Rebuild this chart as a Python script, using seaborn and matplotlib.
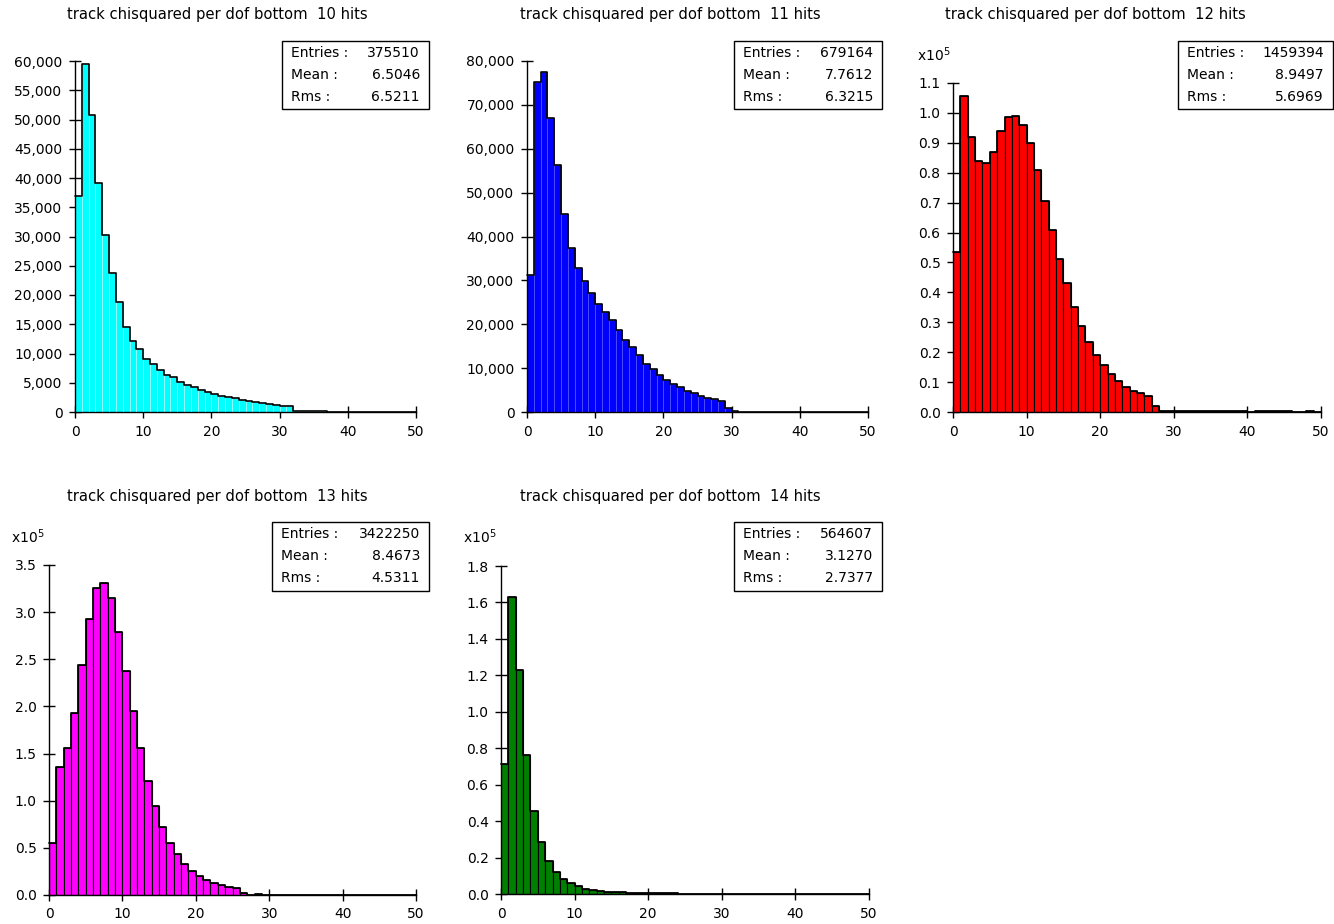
# Track chi-squared per dof (bottom) - histograms for 10..14 hits
# Recreated with seaborn on a 1334x924 canvas

import numpy as np
import pandas as pd
import seaborn as sns

import matplotlib
matplotlib.use('Agg')
import matplotlib.pyplot as plt
from matplotlib.patches import Rectangle
from matplotlib.ticker import FuncFormatter

######################################
# <--- Data (counts per unit bin) ---> #
######################################
bin_centers = np.arange(0, 50) + 0.5

hits10 = [37000, 59500, 50700, 39200, 30200, 23700, 18800, 14500, 12200, 10700,
          9000, 8200, 7100, 6400, 5900, 5100, 4700, 4200, 3800, 3400,
          3100, 2800, 2600, 2350, 2100, 1950, 1700, 1600, 1450, 1250,
          1100, 1000, 250, 200, 150, 120, 100, 80, 60, 50,
          40, 30, 30, 20, 20, 10, 10, 10, 10, 10]
hits11 = [31300, 75200, 77600, 66900, 56200, 45200, 37400, 32900, 29800, 27200,
          24700, 22700, 20900, 18600, 16500, 14800, 12900, 11000, 9700, 8400,
          7300, 6300, 5600, 4700, 4300, 3700, 3200, 2900, 2600, 800,
          150, 100, 80, 60, 50, 40, 30, 20, 20, 10,
          10, 10, 10, 10, 10, 10, 10, 10, 10, 10]
hits12 = [53400, 105500, 91900, 83900, 83200, 86800, 93900, 98500, 99000, 96100,
          90000, 80800, 70500, 60700, 51000, 43000, 35200, 28700, 23300, 18900,
          15600, 12700, 10400, 8500, 7100, 6300, 5200, 1900, 500, 500,
          500, 500, 500, 500, 500, 500, 500, 500, 500, 500,
          0, 400, 400, 400, 400, 400, 0, 0, 400, 0]
hits13 = [55500, 136100, 156200, 193400, 243600, 293000, 325200, 331200, 314600, 279300,
          237900, 195100, 156200, 121200, 94700, 72500, 54800, 43100, 32900, 25500,
          20100, 15900, 12700, 10300, 8500, 7100, 1800, 200, 600, 0,
          0, 0, 0, 0, 0, 0, 0, 0, 0, 0,
          0, 0, 0, 0, 0, 0, 0, 0, 0, 400]
hits14 = [71600, 163000, 123200, 76200, 45500, 28700, 18100, 12200, 8200, 5800,
          4200, 2900, 2200, 1600, 1300, 1100, 900, 700, 600, 500,
          400, 400, 300, 300, 200, 0, 0, 0, 0, 0,
          0, 0, 0, 0, 0, 0, 0, 0, 0, 0,
          0, 0, 0, 0, 0, 0, 0, 0, 0, 0]

titles = ["track chisquared per dof bottom  10 hits",
          "track chisquared per dof bottom  11 hits",
          "track chisquared per dof bottom  12 hits",
          "track chisquared per dof bottom  13 hits",
          "track chisquared per dof bottom  14 hits"]
entries = ["375510", "679164", "1459394", "3422250", "564607"]
means = ["6.5046", "7.7612", "8.9497", "8.4673", "3.1270"]
rmss = ["6.5211", "6.3215", "5.6969", "4.5311", "2.7377"]
fill_colors = ["#00ffff", "#0000ff", "#ff0000", "#ff00ff", "#008000"]

##############################
# <--- Figure and styling ---> #
##############################
W, H = 1334, 924
FS = 10
sns.set_theme(style="white")
plt.rcParams['font.family'] = ['DejaVu Sans']
plt.rcParams['text.color'] = 'black'
fig = plt.figure(figsize=(W / 100, H / 100), dpi=100)
fig.patch.set_facecolor("white")


def px_rect(left, right, top, bottom):
    return [left / W, 1 - bottom / H, (right - left) / W, (bottom - top) / H]


# pixel layouts: axes box, title centre, stats box, x10^5 label
panels = [
    dict(ax=(75, 416, 61, 412), title=(217, 15), box=(282, 429, 41, 109),
         ymax=60000, ystep=5000, scaled=False, lite="#a0ffff"),
    dict(ax=(527, 868, 61, 412), title=(670, 15), box=(734, 882, 41, 109),
         ymax=80000, ystep=10000, scaled=False, lite="#5050ff"),
    dict(ax=(953, 1321, 83, 412), title=(1095, 15), box=(1178, 1333, 41, 109),
         ymax=110000, ystep=10000, scaled=True, mult=(917, 55)),
    dict(ax=(49, 416, 565, 895), title=(217, 497), box=(272, 429, 522, 591),
         ymax=350000, ystep=50000, scaled=True, mult=(11, 537)),
    dict(ax=(501, 869, 566, 894), title=(670, 497), box=(734, 882, 522, 591),
         ymax=180000, ystep=20000, scaled=True, mult=(463, 537)),
]
all_counts = [hits10, hits11, hits12, hits13, hits14]

for i, p in enumerate(panels):
    ax = fig.add_axes(px_rect(*p['ax']))
    df = pd.DataFrame({"chi2": bin_centers, "count": all_counts[i]})
    hist_kws = dict(data=df, x="chi2", weights="count", binwidth=1,
                    binrange=(0, 50), ax=ax)

    if p['scaled']:
        # black bar edges, heavier top outline
        sns.histplot(element="bars", color=fill_colors[i], alpha=1,
                     edgecolor="black", linewidth=0.8, **hist_kws)
        sns.histplot(element="step", fill=False, color="black",
                     linewidth=1.3, **hist_kws)
    else:
        # light bin separators with black step outline
        sns.histplot(element="bars", color=fill_colors[i], alpha=1,
                     edgecolor=p['lite'], linewidth=0.6, **hist_kws)
        sns.histplot(element="step", fill=False, color="black",
                     linewidth=1.2, **hist_kws)
    for ln in ax.lines:
        ln.set_clip_on(False)

    ax.set_xlim(0, 50)
    ax.set_ylim(0, p['ymax'])
    ax.set_xticks(np.arange(0, 51, 10))
    ax.set_yticks(np.arange(0, p['ymax'] + 1, p['ystep']))
    if p['scaled']:
        ax.yaxis.set_major_formatter(FuncFormatter(lambda v, pos: f"{v / 1e5:.1f}"))
    else:
        ax.yaxis.set_major_formatter(FuncFormatter(lambda v, pos: f"{v:,.0f}"))
    ax.set_xlabel("")
    ax.set_ylabel("")
    ax.set_facecolor("white")
    for side in ["top", "right"]:
        ax.spines[side].set_visible(False)
    for side in ["left", "bottom"]:
        ax.spines[side].set_color("black")
        ax.spines[side].set_linewidth(1.0)
    ax.tick_params(axis="both", direction="inout", length=8, width=1,
                   colors="black", labelsize=FS, pad=5, bottom=True, left=True)

    # title
    tx, ty = p['title']
    fig.text(tx / W, 1 - ty / H, titles[i], ha="center", va="center",
             fontsize=10.6, color="black")

    # x10^5 multiplier
    if p['scaled']:
        mx, my = p['mult']
        fig.text(mx / W, 1 - my / H, r"x10$^5$", ha="left", va="center",
                 fontsize=FS, color="black")

    # stats box
    bl, br, bt, bb = p['box']
    fig.add_artist(Rectangle((bl / W, 1 - bb / H), (br - bl) / W, (bb - bt) / H,
                             transform=fig.transFigure, facecolor="white",
                             edgecolor="black", linewidth=1.0))
    rows = [("Entries :", entries[i]), ("Mean :", means[i]), ("Rms :", rmss[i])]
    for k, (lab, val) in enumerate(rows):
        yy = 1 - (bt + 12 + 22 * k) / H
        fig.text((bl + 9) / W, yy, lab, ha="left", va="center", fontsize=FS,
                 color="black")
        fig.text((br - 9) / W, yy, val, ha="right", va="center", fontsize=FS,
                 color="black")

plt.savefig("out.png", dpi=100)
plt.close()
